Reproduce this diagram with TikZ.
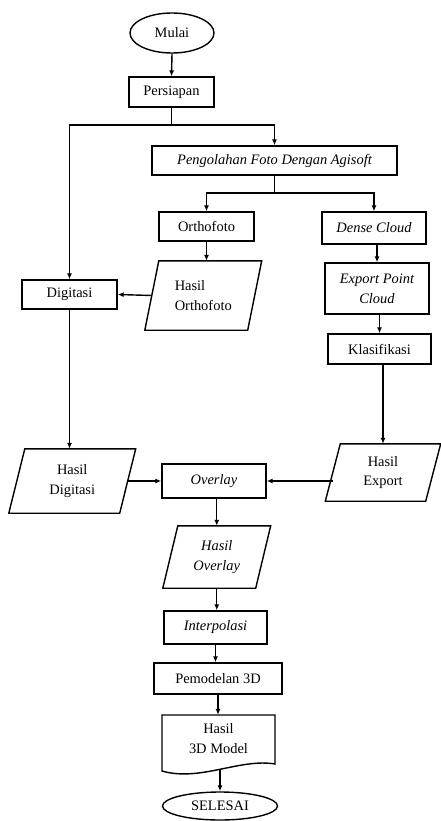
\documentclass[tikz,border=0pt]{standalone}
\usepackage{fontspec}
\setmainfont{Liberation Serif}
\usetikzlibrary{shapes.geometric,arrows.meta}
\tikzset{
  base/.style={inner sep=0pt, font=\fontsize{14.5}{20}\selectfont, align=center},
  box/.style={base, draw, line width=1.4bp},
  oval/.style={base, draw, ellipse, line width=1.4bp},
  io/.style={base},
  arr/.style={line width=1.4bp, -{Latex[length=6bp,width=5bp]}},
  ln/.style={line width=1.4bp},
  outline/.style={line width=1.4bp},
}
\newcommand\paral[2]{\draw[outline] ([xshift=#2]#1.north west) -- ([xshift=#2]#1.north east) -- ([xshift=-#2]#1.south east) -- ([xshift=-#2]#1.south west) -- cycle;}
\begin{document}
\begin{tikzpicture}[x=1bp,y=-1bp]
\useasboundingbox (0,0) rectangle (441,821);
% nodes
\node[oval, minimum width=84bp, minimum height=40bp] (mulai) at (172,33) {Mulai};
\node[box, minimum width=85bp, minimum height=30bp] (persiapan) at (171.5,92) {Persiapan};
\node[box, minimum width=245bp, minimum height=29bp] (pengolahan) at (274.5,160.5) {\itshape Pengolahan Foto Dengan Agisoft};
\node[box, minimum width=95bp, minimum height=29bp] (ortho) at (206.5,226.5) {Orthofoto};
\node[box, minimum width=104bp, minimum height=32bp] (dense) at (374,228) {\itshape Dense Cloud};
\node[io, align=left, minimum width=102.5bp, minimum height=69bp] (hortho) at (203.25,295.5) {Hasil\\Orthofoto};
\node[box, minimum width=95bp, minimum height=29bp] (digitasi) at (69.5,294.5) {Digitasi};
\node[box, minimum width=104bp, minimum height=51bp] (export) at (377,288.5) {\itshape Export Point\\\itshape Cloud};
\node[box, minimum width=103bp, minimum height=30bp] (klas) at (379.5,349) {Klasifikasi};
\node[io, minimum width=110.5bp, minimum height=64bp] (hdig) at (72.25,481) {Hasil\\Digitasi};
\node[box, minimum width=104bp, minimum height=34bp] (overlay) at (214,481) {\itshape Overlay};
\node[io, minimum width=100bp, minimum height=57bp] (hexp) at (383,472.5) {Hasil\\Export};
\node[io, minimum width=92.5bp, minimum height=62bp] (hover) at (216.75,557) {\itshape Hasil\\\itshape Overlay};
\node[box, minimum width=103bp, minimum height=33bp] (interp) at (215.5,627.5) {\itshape Interpolasi};
\node[box, minimum width=128bp, minimum height=31bp] (pemodelan) at (218,678.5) {Pemodelan 3D};
\node[io, minimum width=113bp, minimum height=48bp] (h3d) at (218.5,739) {Hasil\\3D Model};
\node[oval, minimum width=115bp, minimum height=28bp] (selesai) at (220,806) {SELESAI};
% shapes
\paral{hortho}{7bp}
\paral{hdig}{8bp}
\paral{hexp}{7.5bp}
\paral{hover}{7.5bp}
\draw[outline] (162,715) -- (275,715) -- (275,764) .. controls (240,758) and (200,782) .. (162,771) -- cycle;
\coordinate (h3dbot) at (220,770);
% connectors
\draw[arr] (mulai.south) -- (persiapan.north);
\coordinate (j1) at (171.5,125);
\draw[ln] (persiapan.south) -- (j1);
\draw[arr] (j1) -| (pengolahan.north);
\draw[arr] (j1) -| (digitasi.north);
\coordinate (j2) at (274.5,193);
\draw[ln] (pengolahan.south) -- (j2);
\draw[arr] (j2) -| (ortho.north);
\draw[arr] (j2) -| (dense.north);
\draw[arr] (ortho.south) -- (ortho.south |- hortho.north);
\draw[arr] (hortho.west) -- (digitasi.east);
\draw[arr] (export.north |- dense.south) -- (export.north);
\draw[arr] (klas.north |- export.south) -- (klas.north);
\draw[arr] (hexp.north |- klas.south) -- (hexp.north);
\draw[arr] (digitasi.south) -- (digitasi.south |- hdig.north);
\draw[arr] (hdig.east) -- (overlay.west);
\draw[arr] (hexp.west |- overlay.east) -- (overlay.east);
\draw[arr] (hover.north |- overlay.south) -- (hover.north);
\draw[arr] (hover.south) -- (hover.south |- interp.north);
\draw[arr] (interp.south) -- (interp.south |- pemodelan.north);
\draw[arr] (pemodelan.south) -- (pemodelan.south |- h3d.north);
\draw[arr] (h3dbot) -- (selesai.north);
\end{tikzpicture}
\end{document}
